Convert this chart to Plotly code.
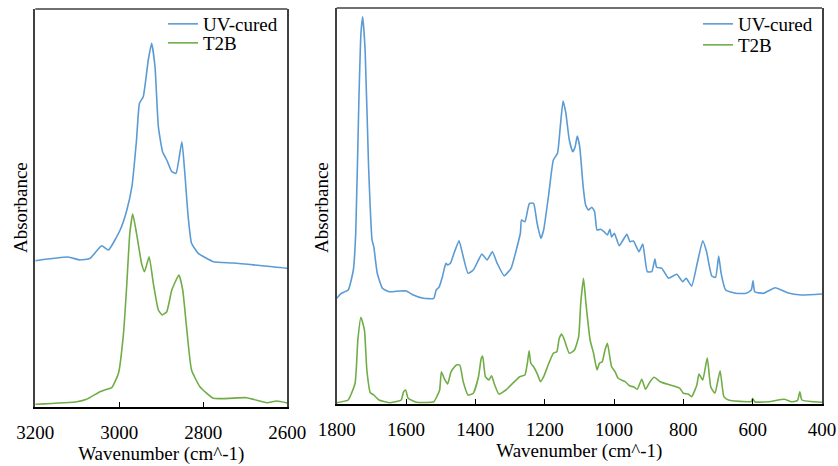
import plotly.graph_objects as go

# ---- Left panel (C-H stretch region) ----
wn_left_uv = [3200, 3122, 3094, 3070, 3042, 3026, 2998, 2982, 2970, 2959, 2952, 2943, 2931,
              2923, 2915, 2907, 2897, 2887, 2875, 2865, 2851, 2844, 2836, 2828, 2812, 2776,
              2729, 2601, 2600]
abs_left_uv = [1.453, 1.49, 1.46, 1.475, 1.603, 1.56, 1.76, 1.96, 2.193, 2.66, 3.027, 3.093, 3.46,
               3.627, 3.393, 2.793, 2.543, 2.46, 2.343, 2.327, 2.643, 2.327, 1.893, 1.627, 1.527,
               1.443, 1.43, 1.377, 1.375]

wn_left_t2b = [3200, 3101, 3078, 3046, 3030, 3018, 3002, 2990, 2982, 2975, 2968, 2959, 2947,
               2940, 2929, 2919, 2907, 2898, 2887, 2875, 2858, 2849, 2840, 2828, 2808, 2776,
               2697, 2649, 2625, 2600]
abs_left_t2b = [0.017, 0.043, 0.067, 0.143, 0.167, 0.183, 0.327, 0.727, 1.227, 1.727, 1.92, 1.727,
                1.427, 1.343, 1.493, 1.227, 0.96, 0.91, 0.943, 1.16, 1.31, 1.16, 0.793, 0.36,
                0.193, 0.077, 0.083, 0.033, 0.05, 0.03]

# ---- Right panel (fingerprint region) ----
wn_right_uv = [1800, 1787, 1767, 1752, 1745, 1736, 1730, 1725, 1718, 1708, 1698, 1693, 1683,
               1668, 1649, 1619, 1599, 1579, 1550, 1520, 1513, 1505, 1495, 1485, 1480, 1472,
               1460, 1447, 1435, 1421, 1406, 1391, 1381, 1366, 1351, 1337, 1317, 1297, 1282,
               1270, 1267, 1257, 1244, 1232, 1222, 1211, 1203, 1188, 1175, 1163, 1155, 1147,
               1139, 1129, 1119, 1112, 1106, 1099, 1089, 1082, 1074, 1064, 1056, 1049, 1039,
               1029, 1019, 1012, 1007, 999, 985, 963, 954, 944, 928, 917, 904, 891, 882, 877,
               862, 843, 819, 802, 792, 776, 760, 744, 733, 718, 707, 698, 691, 678, 649, 619,
               604, 599, 594, 569, 535, 500, 460, 400]
abs_right_uv = [1.077, 1.127, 1.16, 1.36, 1.74, 3.06, 3.73, 3.893, 3.56, 2.393, 1.66, 1.593, 1.327,
                1.177, 1.143, 1.15, 1.15, 1.11, 1.077, 1.077, 1.16, 1.187, 1.293, 1.427, 1.41, 1.427,
                1.543, 1.653, 1.493, 1.327, 1.36, 1.46, 1.52, 1.46, 1.543, 1.427, 1.303, 1.377, 1.56,
                1.73, 1.86, 1.843, 2.027, 2.027, 1.83, 1.677, 1.76, 2.127, 2.46, 2.527, 2.793, 3.05,
                2.93, 2.66, 2.543, 2.593, 2.70, 2.593, 2.193, 2.01, 1.96, 1.987, 1.943, 1.76, 1.767,
                1.743, 1.71, 1.767, 1.69, 1.727, 1.603, 1.717, 1.643, 1.65, 1.543, 1.62, 1.343,
                1.343, 1.47, 1.387, 1.377, 1.277, 1.317, 1.243, 1.277, 1.20, 1.427, 1.653, 1.543,
                1.30, 1.287, 1.50, 1.327, 1.16, 1.127, 1.127, 1.16, 1.253, 1.143, 1.127, 1.183,
                1.133, 1.11, 1.12]

wn_right_t2b = [1800, 1767, 1747, 1739, 1730, 1720, 1713, 1703, 1693, 1678, 1649, 1614, 1607,
                1601, 1594, 1569, 1520, 1510, 1503, 1498, 1490, 1480, 1470, 1455, 1445, 1435,
                1421, 1406, 1391, 1383, 1379, 1371, 1361, 1353, 1346, 1332, 1312, 1302, 1272,
                1257, 1250, 1245, 1240, 1232, 1222, 1212, 1203, 1188, 1175, 1165, 1158, 1151,
                1143, 1129, 1114, 1102, 1096, 1088, 1081, 1069, 1059, 1049, 1042, 1034, 1026,
                1019, 1007, 997, 988, 968, 954, 944, 933, 920, 909, 896, 884, 867, 838, 810,
                800, 786, 776, 761, 755, 744, 731, 721, 709, 694, 683, 670, 617, 604, 600, 594,
                555, 508, 490, 471, 464, 458, 400]
abs_right_t2b = [0.033, 0.06, 0.227, 0.66, 0.887, 0.76, 0.36, 0.133, 0.11, 0.06, 0.033, 0.06, 0.143,
                 0.16, 0.077, 0.037, 0.043, 0.103, 0.16, 0.343, 0.277, 0.22, 0.343, 0.41, 0.41, 0.243,
                 0.11, 0.127, 0.293, 0.477, 0.50, 0.293, 0.26, 0.303, 0.227, 0.12, 0.16, 0.193, 0.293,
                 0.31, 0.427, 0.553, 0.427, 0.393, 0.327, 0.243, 0.293, 0.427, 0.527, 0.543, 0.677,
                 0.72, 0.66, 0.527, 0.56, 0.693, 1.027, 1.277, 1.027, 0.66, 0.527, 0.36, 0.427, 0.443,
                 0.56, 0.627, 0.393, 0.343, 0.277, 0.243, 0.20, 0.193, 0.167, 0.267, 0.167, 0.243,
                 0.287, 0.243, 0.21, 0.177, 0.127, 0.12, 0.093, 0.21, 0.32, 0.26, 0.483, 0.193,
                 0.127, 0.353, 0.093, 0.06, 0.043, 0.043, 0.077, 0.043, 0.043, 0.067, 0.043, 0.053,
                 0.143, 0.06, 0.037]

series_names = ["UV-cured", "T2B"]
left_ticks = [3200, 3000, 2800, 2600]
right_ticks = [1800, 1600, 1400, 1200, 1000, 800, 600, 400]

BLUE = "#5B9BD5"
GREEN = "#70AD47"
FONT = "Liberation Serif"
FS = 19
TXT = dict(family=FONT, size=FS, color="black")

fig = go.Figure()
line_shape = dict(width=1.6, shape="spline", smoothing=0.45)
fig.add_trace(go.Scatter(x=wn_left_uv, y=abs_left_uv, name=series_names[0], mode="lines",
                         line=dict(color=BLUE, **line_shape), xaxis="x", yaxis="y", legend="legend"))
fig.add_trace(go.Scatter(x=wn_left_t2b, y=abs_left_t2b, name=series_names[1], mode="lines",
                         line=dict(color=GREEN, **line_shape), xaxis="x", yaxis="y", legend="legend2"))
fig.add_trace(go.Scatter(x=wn_right_uv, y=abs_right_uv, name=series_names[0], mode="lines",
                         line=dict(color=BLUE, **line_shape), xaxis="x2", yaxis="y2", legend="legend3"))
fig.add_trace(go.Scatter(x=wn_right_t2b, y=abs_right_t2b, name=series_names[1], mode="lines",
                         line=dict(color=GREEN, **line_shape), xaxis="x2", yaxis="y2", legend="legend4"))

W, H = 838, 466
T, B = 8, 58
plot_h = H - T - B


def ydom(top_px, bot_px):
    return [(H - B - bot_px) / plot_h, (H - B - top_px) / plot_h]


def py(px):
    return (H - B - px) / plot_h


xcommon = dict(autorange=False, automargin=False, showgrid=False, zeroline=False, showline=True,
               linecolor="black", linewidth=1.5, ticks="inside", ticklen=5, tickwidth=1,
               tickcolor="black", tickfont=TXT, ticklabelstandoff=7,
               title=dict(text="Wavenumber (cm^-1)", font=TXT, standoff=0),
               mirror=False)
ycommon = dict(autorange=False, automargin=False, showgrid=False, zeroline=False, showticklabels=False,
               ticks="", showline=True, linecolor="#404040", linewidth=1.5, mirror=True)


def leg(xpx, ypx):
    return dict(x=xpx / W, xanchor="left", y=py(ypx), yanchor="middle",
                bgcolor="rgba(0,0,0,0)", font=TXT)


fig.update_layout(
    width=W, height=H, margin=dict(l=0, r=0, t=T, b=B, autoexpand=False),
    paper_bgcolor="white", plot_bgcolor="white",
    font=TXT,
    xaxis=dict(domain=[35.3 / W, 287.3 / W], range=[3200, 2600], tickvals=left_ticks,
               anchor="y", **xcommon),
    yaxis=dict(domain=ydom(9, 407), range=[-0.01, 3.97], anchor="x", **ycommon),
    xaxis2=dict(domain=[336.7 / W, 822 / W], range=[1800, 400], tickvals=right_ticks,
                anchor="y2", **xcommon),
    yaxis2=dict(domain=ydom(8, 404), range=[0.02, 3.98], anchor="x2", **ycommon),
    legend=leg(163, 24),
    legend2=leg(163, 43),
    legend3=leg(698, 24),
    legend4=leg(698, 45),
    showlegend=True,
    shapes=[
        dict(type="line", xref="x domain", yref="y domain", x0=0, x1=1, y0=1, y1=1,
             line=dict(color="#404040", width=1.5)),
        dict(type="line", xref="x2 domain", yref="y2 domain", x0=0, x1=1, y0=1, y1=1,
             line=dict(color="#404040", width=1.5)),
    ],
    annotations=[
        dict(text="Absorbance", textangle=-90, xref="paper", yref="paper",
             x=20 / W, y=0.5, xanchor="center", yanchor="middle", showarrow=False, font=TXT),
        dict(text="Absorbance", textangle=-90, xref="paper", yref="paper",
             x=321 / W, y=0.5, xanchor="center", yanchor="middle", showarrow=False, font=TXT),
    ],
)

fig.write_html("out.html")
